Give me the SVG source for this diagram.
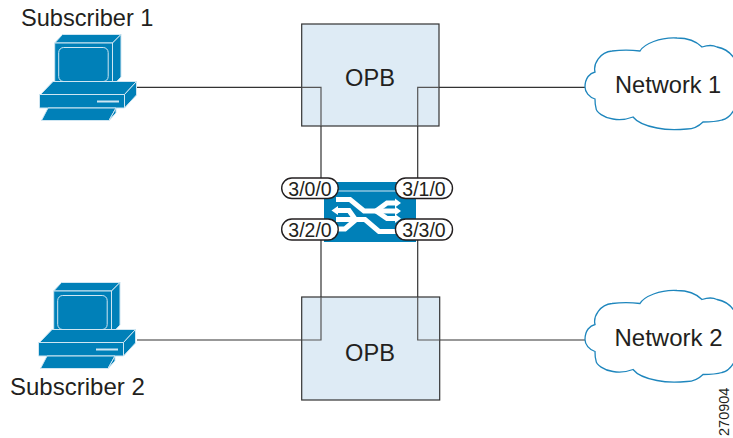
<svg xmlns="http://www.w3.org/2000/svg" width="733" height="438" viewBox="0 0 733 438">
<style>
text{font-family:"Liberation Sans",Arial,sans-serif;fill:#231f20}
.l{font-size:23.600px}
.n{font-size:24px}
.p{font-size:19.500px;text-anchor:middle}
.box{fill:#deebf5;stroke:#333;stroke-width:1.2}
.pill{fill:#fff;stroke:#231f20;stroke-width:1.4}
.conn{fill:none;stroke:#333;stroke-width:1.2}
.in{fill:none;stroke:#555;stroke-width:1.2}
.cloud{fill:#fff;stroke:#1e86bd;stroke-width:1.3}
.b{fill:#0080b8;stroke:#cfe6f2;stroke-width:1;stroke-linejoin:round}
.w{fill:none;stroke:#fff;stroke-width:5;stroke-linejoin:miter}
.wf{fill:#fff}
</style>
<defs>
<g id="pc">
<path class="b" d="M54.700 43L62.500 34.500H121L112.500 43Z"/>
<path class="b" d="M112.500 43L121 34.500V77L112.500 86Z"/>
<rect class="b" x="54.700" y="43" width="57.800" height="43"/>
<rect class="b" x="58.700" y="47.500" width="49.500" height="34" rx="5"/>
<path class="b" d="M40.500 94.500L53 81.500H136.500L124.500 94.500Z"/>
<path class="b" d="M124.500 94.500L136.500 81.500V95L124.500 108Z"/>
<rect class="b" x="39.500" y="94.500" width="85" height="13.500"/>
<rect x="97" y="100.500" width="22" height="2" fill="#cfe6f2"/>
<path class="b" d="M48 108H116L109 120.500H41.500Z"/>
<path class="b" d="M116 108V113L109 120.500Z"/>
</g>
<path id="cl" class="cloud" d="M585 87C585 78 590 73 595 72C593 64 600 52 612 51C620 50 632 50 640 51C644 44 660 37 677 38C688 38 697 42 702 47C708 45 713 45 717 47C727 49 732 54 735 60C741 75 741 95 735 108C732 114 727 119 722 120C715 122 708 122 703 122C698 127 692 129 687 129C677 130 666 130 657 128C646 126 637 122 633 117C625 120 618 120 613 119C604 118 596 112 596 108C595 105 595 102 595 99C589 97 585 92 585 87Z"/>
</defs>
<g id="connectors">
<path class="conn" d="M137 87.300H321V178"/>
<path class="conn" d="M586 87.300H417.700V178"/>
<path class="conn" d="M137 340H321V240"/>
<path class="conn" d="M586 340H417.700V240"/>
</g>
<g id="opb1"><rect class="box" x="301.700" y="24" width="137.300" height="102"/><path class="in" d="M301.700 87.300H321V126M439 87.300H417.700V126"/><text class="l" x="370" y="85.700" text-anchor="middle">OPB</text></g>
<g id="opb2"><rect class="box" x="301.700" y="297" width="138" height="103"/><path class="in" d="M301.700 340H321V297M439.700 340H417.700V297"/><text class="l" x="370" y="361" text-anchor="middle">OPB</text></g>
<g id="switch">
<rect x="324" y="182" width="92" height="60" fill="#0080b8"/>
<path d="M336 191H405" stroke="#cfe6f2" stroke-width="1.200"/>
<path class="w" d="M336 199.500H350L364 211H380"/>
<path class="w" d="M376 211L387 203H396"/>
<path class="w" d="M376 211H396"/>
<path class="w" d="M376 211L387 218.500H396"/>
<path class="w" d="M338 210.500H349L355 219"/>
<path class="w" d="M336 219.500H365L379 231.500H398"/>
<path class="w" d="M336 229H345L356 219.500"/>
<path class="wf" d="M395 198.500L401 203L395 207.500Z"/>
<path class="wf" d="M395 206.500L401 211L395 215.500Z"/>
<path class="wf" d="M395 214L401 218.500L395 223Z"/>
<path class="wf" d="M338 206L331.500 210.500L338 215Z"/>
</g>
<g id="port-3-0-0"><rect class="pill" x="281.700" y="178" width="56.500" height="20.500" rx="10.200"/><text class="p" x="310" y="195.500">3/0/0</text></g>
<g id="port-3-1-0"><rect class="pill" x="395.500" y="178" width="57" height="20.500" rx="10.200"/><text class="p" x="424" y="195.500">3/1/0</text></g>
<g id="port-3-2-0"><rect class="pill" x="281.700" y="219" width="56.500" height="21" rx="10.200"/><text class="p" x="310" y="236.500">3/2/0</text></g>
<g id="port-3-3-0"><rect class="pill" x="395.500" y="219" width="57" height="21" rx="10.200"/><text class="p" x="424" y="236.500">3/3/0</text></g>
<g id="subscriber1"><use href="#pc"/><text class="l" x="21" y="25.500">Subscriber 1</text></g>
<g id="subscriber2"><use href="#pc" transform="translate(-1 248)"/><text class="n" x="10" y="395">Subscriber 2</text></g>
<g id="network1"><use href="#cl"/><text class="l" x="615" y="92.700">Network 1</text></g>
<g id="network2"><use href="#cl" transform="translate(0 252.500)"/><text class="n" x="614.500" y="346">Network 2</text></g>
<text x="729" y="436" font-size="14.500" transform="rotate(-90 729 436)">270904</text>
</svg>
